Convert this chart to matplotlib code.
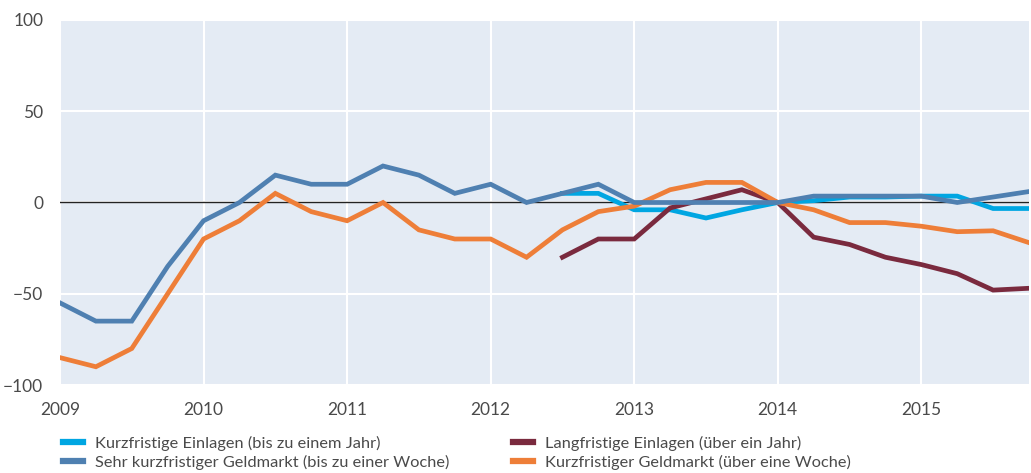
import matplotlib
matplotlib.use("Agg")
import matplotlib.pyplot as plt
import numpy as np

# Quarterly time axis
q_full = [2009 + i * 0.25 for i in range(28)]      # 2009.00 .. 2015.75
q_late = [2012.5 + i * 0.25 for i in range(14)]    # 2012.50 .. 2015.75

sehr_kurz_geld = [-55, -65, -65, -35, -10, 0, 15, 10, 10, 20, 15, 5, 10, 0,
                  5, 10, 0, 0, 0, 0, 0, 3.5, 3.5, 3.5, 3.5, 0, 3, 6]
kurz_geld = [-85, -90, -80, -50, -20, -10, 5, -5, -10, 0, -15, -20, -20, -30,
             -15, -5, -2, 7, 11, 11, 0, -4, -11, -11, -13, -16, -15.5, -22]
kurz_einlagen = [5, 5, -4, -4, -8.5, -4, 0, 1, 3, 3, 3.5, 3.5, -3.3, -3.3]
lang_einlagen = [-30, -20, -20, -3, 2, 7, 0, -19, -23, -30, -34, -39, -48, -47]

labels = ["Kurzfristige Einlagen (bis zu einem Jahr)",
          "Sehr kurzfristiger Geldmarkt (bis zu einer Woche)",
          "Langfristige Einlagen (über ein Jahr)",
          "Kurzfristiger Geldmarkt (über eine Woche)"]
colors = ["#00A6E2", "#4F80B1", "#7A2A3E", "#EE7E38"]

year_ticks = [2009, 2010, 2011, 2012, 2013, 2014, 2015]
y_ticks = [-100, -50, 0, 50, 100]
y_tick_labels = ["\u2212100", "\u221250", "0", "50", "100"]

plt.rcParams['font.family'] = ['Lato', 'DejaVu Sans']
text_color = "#4a4a4a"

fig = plt.figure(figsize=(10.31, 4.73), dpi=100)
ax = fig.add_axes([60 / 1031, 1 - 385 / 473, 969 / 1031, 365 / 473])
ax.set_facecolor("#E4EBF4")
for s in ax.spines.values():
    s.set_visible(False)

ax.set_xlim(2009, 2015.75)
ax.set_ylim(-100, 100)
ax.set_xticks(year_ticks)
ax.set_xticklabels([str(y) for y in year_ticks])
ax.set_yticks(y_ticks)
ax.set_yticklabels(y_tick_labels)
ax.tick_params(length=0, labelsize=12.5, labelcolor=text_color)
ax.tick_params(axis='x', pad=12)
ax.tick_params(axis='y', pad=12)

ax.grid(True, color="white", linewidth=1.5)
ax.set_axisbelow(True)
ax.axhline(0, color="#222222", linewidth=1.0, zorder=2)

lw = 3.4
l1, = ax.plot(q_late, kurz_einlagen, color=colors[0], lw=lw, zorder=3, solid_joinstyle='miter')
l2, = ax.plot(q_full, sehr_kurz_geld, color=colors[1], lw=lw, zorder=4, solid_joinstyle='miter')
l3, = ax.plot(q_late, lang_einlagen, color=colors[2], lw=lw, zorder=3, solid_joinstyle='miter')
l4, = ax.plot(q_full, kurz_geld, color=colors[3], lw=lw, zorder=3, solid_joinstyle='miter')

leg = fig.legend([l1, l2, l3, l4], labels, ncol=2, loc="upper left",
                 bbox_to_anchor=(50 / 1031, 1 - 423 / 473), frameon=False,
                 fontsize=11.8, handlelength=1.22, handletextpad=0.73,
                 columnspacing=3.87, labelspacing=0.22, borderpad=0.3)
for t in leg.get_texts():
    t.set_color(text_color)
for h in leg.get_lines():
    h.set_linewidth(4.5)

fig.savefig("out.png", dpi=100)
